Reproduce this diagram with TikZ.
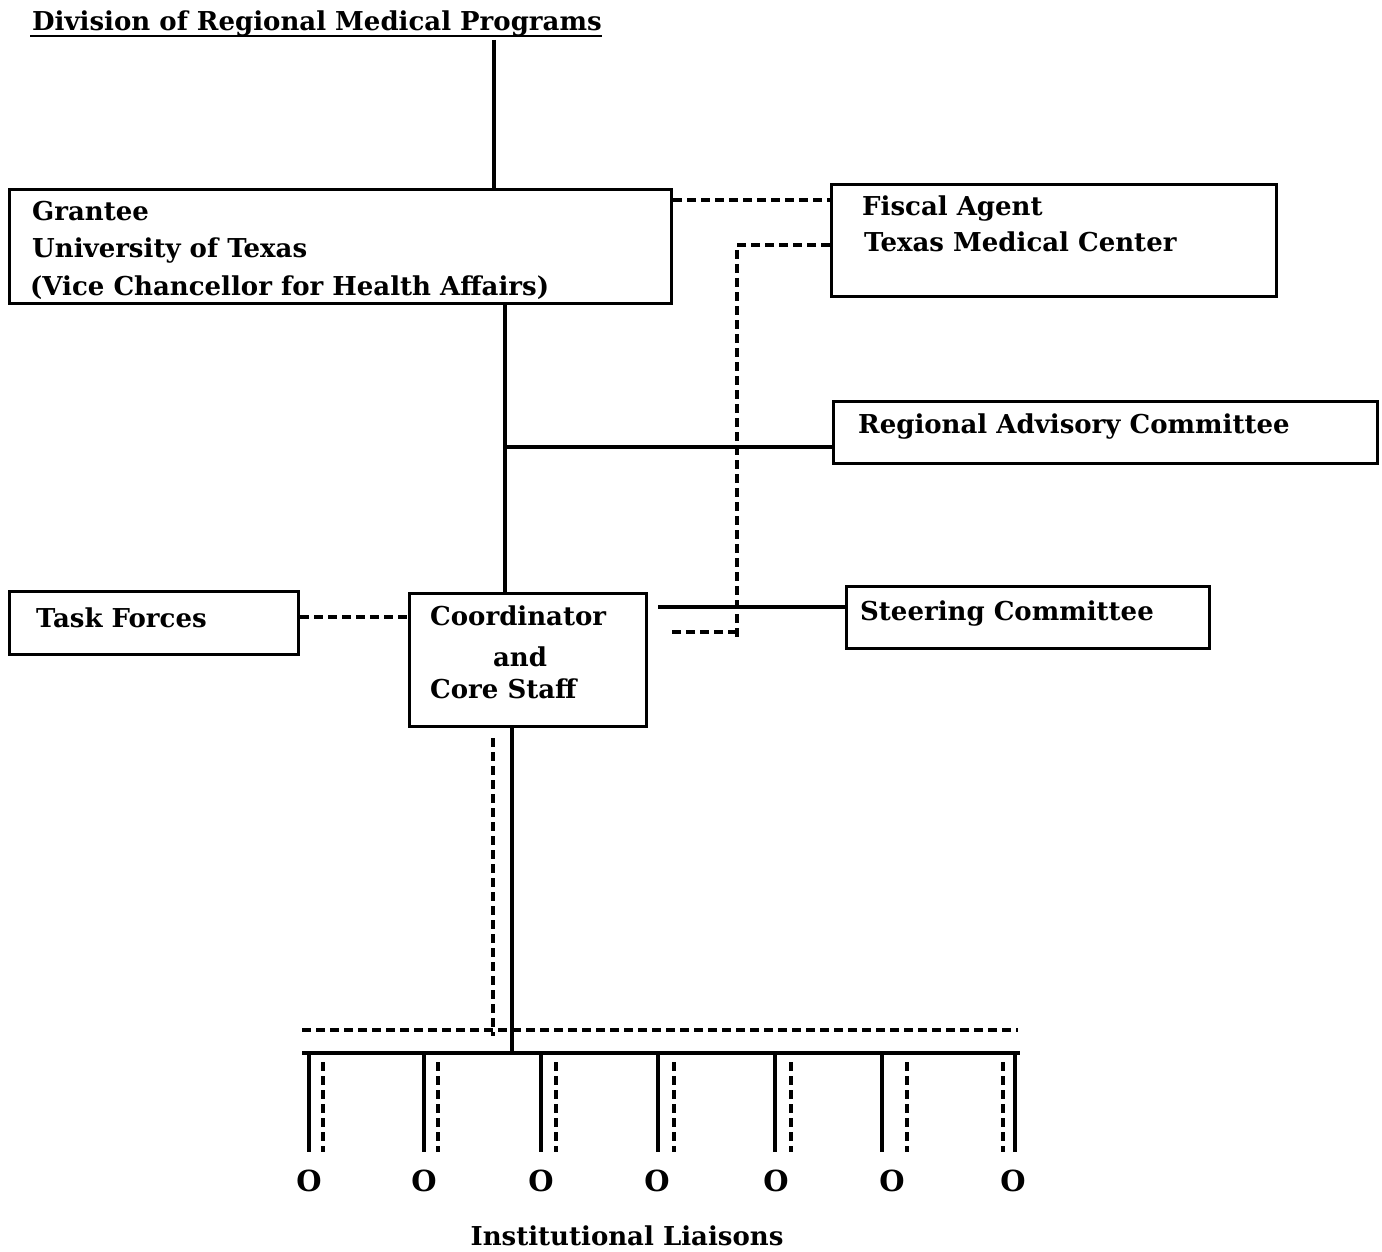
\documentclass[tikz,border=0pt]{standalone}
\usepackage{fontspec}
\setmainfont{DejaVu Serif}
\begin{document}
\begin{tikzpicture}[x=1pt,y=-1pt,
  every node/.style={font=\fontsize{26}{30}\selectfont\bfseries},
  box/.style={draw, line width=3pt, anchor=north west, inner sep=0pt},
  lbl/.style={anchor=base west, inner sep=0pt},
  solidln/.style={line width=3.4pt},
  dashln/.style={line width=3.8pt, dash pattern=on 9pt off 5pt},
  liaison/.style={anchor=base, inner sep=0pt, font=\fontsize{29}{30}\selectfont\bfseries}]
\useasboundingbox (0,0) rectangle (1382,1252);
% title
\node[lbl] (title) at (32,31) {Division of Regional Medical Programs};
\draw[line width=2.6pt] (title.south west) ++(-2,-1) -- ([yshift=1pt]title.south east);
% boxes
\node[box, minimum width=662pt, minimum height=114pt] (grantee) at (8,188) {};
\node[box, minimum width=445pt, minimum height=112pt] (fiscal) at (830,183) {};
\node[box, minimum width=544pt, minimum height=62pt] (rac) at (832,400) {};
\node[box, minimum width=289pt, minimum height=63pt] (task) at (8,590) {};
\node[box, minimum width=237pt, minimum height=133pt] (coord) at (408,592) {};
\node[box, minimum width=363pt, minimum height=62pt] (steer) at (845,585) {};
% texts
\node[lbl] (g1) at (32,221) {Grantee};
\node[lbl] (g2) at (32,258) {University of Texas};
\node[lbl] (g3) at (30,295) {(Vice Chancellor for Health Affairs)};
\node[lbl] (f1) at (862,216) {Fiscal Agent};
\node[lbl] (f2) at (864,252) {Texas Medical Center};
\node[lbl] (r1) at (858,433) {Regional Advisory Committee};
\node[lbl] (t1) at (36,627) {Task Forces};
\node[lbl] (c1) at (430,625) {Coordinator};
\node[anchor=base, inner sep=0pt] (c2) at (520,666) {and};
\node[lbl] (c3) at (430,698) {Core Staff};
\node[lbl] (s1) at (860,620) {Steering Committee};
\node[anchor=base, inner sep=0pt] (inst) at (627,1245) {Institutional Liaisons};
% coordinates
\coordinate (ttop) at (494,40);
\coordinate (gbot) at (505,302);
\coordinate (racj) at (505,447);
\coordinate (fx) at (737,245);
\coordinate (cx) at (737,632);
\coordinate (sbusL) at (302,1053);
\coordinate (sbusR) at (1020,1053);
\coordinate (dbusL) at (302,1030);
\coordinate (dbusR) at (1018,1030);
% connectors
\draw[solidln] (ttop) -- (ttop |- grantee.north);
\draw[solidln] (gbot) -- (gbot |- coord.north);
\draw[solidln] (racj) -- (racj -| rac.west);
\draw[dashln] (grantee.east |- 0,200) -- (fiscal.west |- 0,200);
\draw[dashln] (fiscal.west |- fx) -- (fx) -- ([yshift=-8pt]cx);
\draw[dashln] (cx) -- ([xshift=20pt]coord.east |- cx);
\draw[solidln] ([xshift=10pt]coord.east |- 0,607) -- (steer.west |- 0,607);
\draw[dashln] (task.east |- 0,617) -- (coord.west |- 0,617);
\draw[solidln] (coord.south -| 512,0) -- (512,1053);
\draw[dashln] ([yshift=-10pt]coord.south -| 493,0) -- (493,1036);
\draw[solidln] (sbusL) -- (sbusR);
\draw[dashln] (dbusL) -- (dbusR);
% liaisons
\foreach \i/\sx/\dx/\ox in {1/309/323/309, 2/424/438/424, 3/541/556/541, 4/658/674/657, 5/775/791/776, 6/882/907/892, 7/1015/1003/1013} {
  \node[liaison] (l\i) at (\ox,1191) {O};
  \draw[solidln] (\sx,1053) -- (\sx,1152);
  \draw[dashln] (\dx,1062) -- (\dx,1152);
}
\end{tikzpicture}
\end{document}
